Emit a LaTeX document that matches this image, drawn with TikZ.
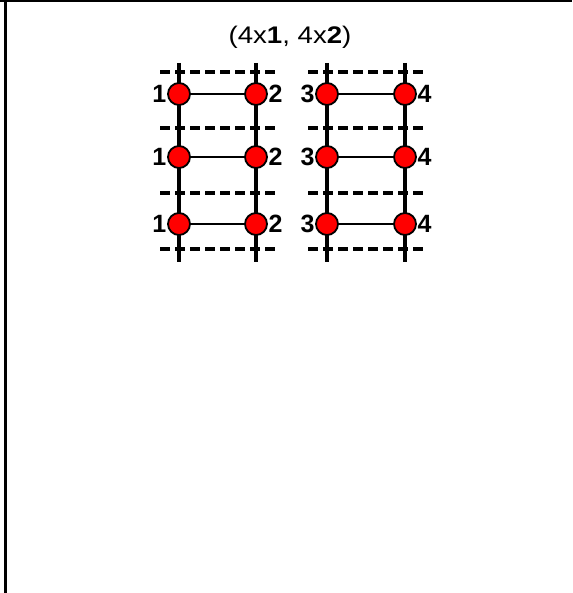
\documentclass[tikz,border=0pt]{standalone}
\usepackage{fontspec}
\setmainfont{Liberation Sans}
\usetikzlibrary{positioning}

\begin{document}
\begin{tikzpicture}[
    x=1pt, y=-1pt,
    site/.style={circle, draw, fill=red, line width=1.8pt, minimum size=22pt, inner sep=0pt},
    num/.style={font=\fontsize{25}{28}\selectfont\bfseries, inner sep=0pt},
    rail/.style={line width=3.5pt},
    rung/.style={line width=2.6pt},
    cut/.style={line width=3.5pt, dash pattern=on 10pt off 5pt},
]
\useasboundingbox (0,0) rectangle (572,593);

% Frame
\draw[line width=2.2pt] (0,0.6) -- (572,0.6);
\draw[line width=2.6pt] (5.5,0) -- (5.5,593);

% Title
\node[font=\fontsize{24}{28}\selectfont] (title) at (290,37) {\scalebox{1.15}[1]{(4x\textbf{1}, 4x\textbf{2})}};

% Dashed cuts
\draw[cut] (160,72) -- (277,72);  \draw[cut] (308,72) -- (426,72);
\draw[cut] (160,128) -- (277,128); \draw[cut] (308,128) -- (426,128);
\draw[cut] (160,193) -- (277,193); \draw[cut] (308,193) -- (426,193);
\draw[cut] (160,249) -- (277,249); \draw[cut] (308,249) -- (426,249);

% Rails
\coordinate (topA) at (179,63); \coordinate (botA) at (179,262);
\coordinate (topB) at (256,63); \coordinate (botB) at (256,262);
\coordinate (topC) at (327,63); \coordinate (botC) at (327,262);
\coordinate (topD) at (405,63); \coordinate (botD) at (405,262);
\draw[rail] (topA) -- (botA);
\draw[rail] (topB) -- (botB);
\draw[rail] (topC) -- (botC);
\draw[rail] (topD) -- (botD);

% Sites
\node[site] (a1) at (179,94) {};  \node[site] (b1) at (256,94) {};
\node[site] (c1) at (327,94) {};  \node[site] (d1) at (405,94) {};
\node[site] (a2) at (179,157) {}; \node[site] (b2) at (256,157) {};
\node[site] (c2) at (327,157) {}; \node[site] (d2) at (405,157) {};
\node[site] (a3) at (179,224) {}; \node[site] (b3) at (256,224) {};
\node[site] (c3) at (327,224) {}; \node[site] (d3) at (405,224) {};

% Rungs
\draw[rung] (a1) -- (b1); \draw[rung] (c1) -- (d1);
\draw[rung] (a2) -- (b2); \draw[rung] (c2) -- (d2);
\draw[rung] (a3) -- (b3); \draw[rung] (c3) -- (d3);

% Labels
\node[num, left=0.5pt of a1] (la1) {1}; \node[num, right=0.5pt of b1] (lb1) {2};
\node[num, left=0.5pt of c1] (lc1) {3}; \node[num, right=0.5pt of d1] (ld1) {4};
\node[num, left=0.5pt of a2] (la2) {1}; \node[num, right=0.5pt of b2] (lb2) {2};
\node[num, left=0.5pt of c2] (lc2) {3}; \node[num, right=0.5pt of d2] (ld2) {4};
\node[num, left=0.5pt of a3] (la3) {1}; \node[num, right=0.5pt of b3] (lb3) {2};
\node[num, left=0.5pt of c3] (lc3) {3}; \node[num, right=0.5pt of d3] (ld3) {4};

\end{tikzpicture}
\end{document}
